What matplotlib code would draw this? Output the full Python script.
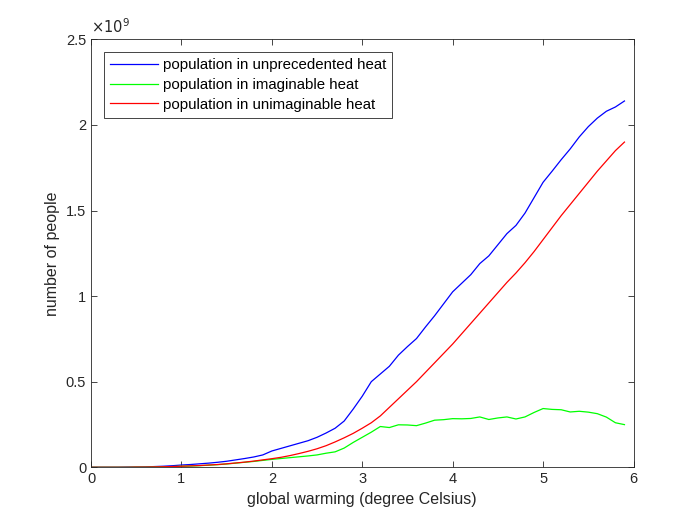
import numpy as np
import matplotlib.pyplot as plt
from matplotlib.ticker import FuncFormatter

plt.rcParams['font.family'] = ['Liberation Sans', 'DejaVu Sans']

# global warming levels (degree Celsius)
warming = np.round(np.arange(0, 6.0, 0.1), 1)

# population, in units of 1e9 people
unprecedented = [0, 0, 0, 0, 0.001, 0.001, 0.002, 0.004, 0.006, 0.009,
                 0.013, 0.016, 0.02, 0.024, 0.029, 0.035, 0.043, 0.051, 0.06, 0.072,
                 0.095, 0.11, 0.125, 0.14, 0.155, 0.175, 0.2, 0.228, 0.27, 0.34,
                 0.415, 0.5, 0.545, 0.59, 0.655, 0.705, 0.752, 0.82, 0.885, 0.955,
                 1.025, 1.075, 1.125, 1.19, 1.235, 1.3, 1.365, 1.413, 1.485, 1.575,
                 1.665, 1.73, 1.797, 1.86, 1.93, 1.99, 2.04, 2.08, 2.105, 2.14]
imaginable = [0, 0, 0, 0, 0, 0.001, 0.001, 0.002, 0.003, 0.004,
              0.006, 0.007, 0.009, 0.012, 0.015, 0.019, 0.024, 0.029, 0.034, 0.04,
              0.046, 0.051, 0.056, 0.061, 0.066, 0.072, 0.082, 0.09, 0.112, 0.145,
              0.175, 0.205, 0.238, 0.232, 0.248, 0.247, 0.243, 0.258, 0.275, 0.278,
              0.284, 0.283, 0.285, 0.294, 0.279, 0.288, 0.294, 0.282, 0.294, 0.32,
              0.343, 0.338, 0.336, 0.323, 0.327, 0.322, 0.313, 0.293, 0.26, 0.249]
unimaginable = [0, 0, 0, 0, 0, 0.001, 0.001, 0.002, 0.003, 0.004,
                0.006, 0.008, 0.01, 0.013, 0.016, 0.02, 0.025, 0.03, 0.036, 0.043,
                0.05, 0.058, 0.068, 0.08, 0.093, 0.108, 0.126, 0.148, 0.172, 0.198,
                0.228, 0.26, 0.3, 0.35, 0.4, 0.45, 0.5, 0.555, 0.61, 0.665,
                0.72, 0.78, 0.84, 0.9, 0.96, 1.02, 1.08, 1.135, 1.195, 1.26,
                1.33, 1.4, 1.47, 1.535, 1.6, 1.665, 1.73, 1.79, 1.85, 1.9]

scale = 1e9
dark = '#262626'

fig = plt.figure(figsize=(7, 5.25), dpi=100)
ax = fig.add_axes([0.13, 0.11, 0.775, 0.815])

ax.plot(warming, np.array(unprecedented) * scale, color='#0000ff', lw=0.9,
        label='population in unprecedented heat')
ax.plot(warming, np.array(imaginable) * scale, color='#00ff00', lw=0.9,
        label='population in imaginable heat')
ax.plot(warming, np.array(unimaginable) * scale, color='#ff0000', lw=0.9,
        label='population in unimaginable heat')

ax.set_xlim(0, 6)
ax.set_ylim(0, 2.5e9)
ax.set_xticks([0, 1, 2, 3, 4, 5, 6])
ax.set_yticks(np.arange(0, 2.6, 0.5) * scale)
ax.yaxis.set_major_formatter(FuncFormatter(lambda v, p: '%g' % (v / scale)))
ax.text(0.0, 1.008, r'$\times10^{9}$', transform=ax.transAxes, fontsize=10.5,
        color=dark, ha='left', va='bottom')

ax.tick_params(direction='in', top=True, right=True, labelsize=10.5,
               length=4, width=0.6, colors=dark)
for s in ax.spines.values():
    s.set_linewidth(0.6)
    s.set_color(dark)

ax.set_xlabel('global warming (degree Celsius)', fontsize=11.5, color=dark)
ax.set_ylabel('number of people', fontsize=11.5, color=dark)

leg = ax.legend(loc='upper left', bbox_to_anchor=(0.024, 0.97), fontsize=10.8,
                fancybox=False, edgecolor=dark, framealpha=1,
                borderaxespad=0, handlelength=3.2, handletextpad=0.3,
                labelspacing=0.38, borderpad=0.4)
leg.get_frame().set_linewidth(0.6)

fig.savefig('out.png', dpi=100)
